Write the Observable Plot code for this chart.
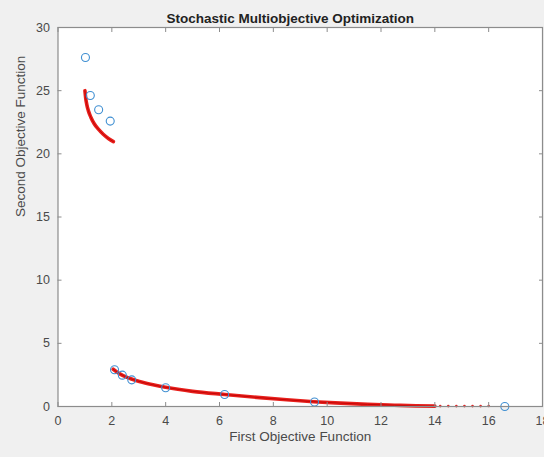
<!DOCTYPE html>
<html><head><meta charset="utf-8">
<script src="https://cdn.jsdelivr.net/npm/d3@7"></script>
<script src="https://cdn.jsdelivr.net/npm/@observablehq/plot@0.6"></script>
<style>
html,body{margin:0;padding:0;background:#f0f0f0;overflow:hidden;}
</style></head><body><div id="chart"></div>
<script>
const title = "Stochastic Multiobjective Optimization";
const xLabel = "First Objective Function";
const yLabel = "Second Objective Function";
const xTicks = [0, 2, 4, 6, 8, 10, 12, 14, 16, 18];
const yTicks = [0, 5, 10, 15, 20, 25, 30];

// blue circles (sampled objective values)
const sampleX = [1.02, 1.2, 1.51, 1.94, 2.1, 2.39, 2.74, 4.0, 6.19, 9.53, 16.6];
const sampleY = [27.63, 24.62, 23.49, 22.59, 2.91, 2.48, 2.11, 1.48, 0.95, 0.36, 0.0];

// red front, upper branch
const upperX = [1.0, 1.03, 1.07, 1.13, 1.22, 1.34, 1.5, 1.68, 1.87, 2.06];
const upperY = [25.0, 24.4, 23.9, 23.4, 22.9, 22.4, 21.95, 21.55, 21.22, 20.97];

// red front, lower branch
const lowerX = [2.05, 2.2, 2.4, 2.7, 3.2, 4.0, 5.0, 6.2, 7.5, 8.5, 9.5, 10.5, 11.5, 12.5, 13.3, 14.0];
const lowerY = [2.95, 2.72, 2.47, 2.2, 1.88, 1.52, 1.2, 0.95, 0.7, 0.53, 0.38, 0.27, 0.17, 0.1, 0.05, 0.03];

// sparse red points at the tail
const tailX = [14.2, 14.5, 14.8, 15.1, 15.4, 15.7, 16.0];
const tailY = [0.03, 0.03, 0.03, 0.03, 0.03, 0.03, 0.04];

const upper = upperX.map((x, i) => ({x, y: upperY[i]}));
const lower = lowerX.map((x, i) => ({x, y: lowerY[i]}));
const tail = tailX.map((x, i) => ({x, y: tailY[i]}));
const samples = sampleX.map((x, i) => ({x, y: sampleY[i]}));

const axisColor = "#8c8c8c";
const textColor = "#4a4a4a";
const font = "'Liberation Sans', Arial, Helvetica, sans-serif";

const plot = Plot.plot({
  width: 544,
  height: 457,
  marginTop: 27,
  marginBottom: 51,
  marginLeft: 57.5,
  marginRight: 2,
  style: {background: "#f0f0f0", fontFamily: font, overflow: "hidden"},
  x: {domain: [0, 18]},
  y: {domain: [0, 30]},
  marks: [
    Plot.frame({fill: "white", stroke: null}),
    Plot.line(upper, {x: "x", y: "y", stroke: "#e8201c", strokeWidth: 3.6, curve: "monotone-x"}),
    Plot.line(lower, {x: "x", y: "y", stroke: "#e8201c", strokeWidth: 3.6, curve: "monotone-x"}),
    Plot.line(upper, {x: "x", y: "y", stroke: "#c40606", strokeWidth: 1, curve: "monotone-x"}),
    Plot.line(lower, {x: "x", y: "y", stroke: "#c40606", strokeWidth: 1, curve: "monotone-x"}),
    Plot.dot(tail, {x: "x", y: "y", r: 1.3, fill: "#e02020"}),
    Plot.dot(samples, {x: "x", y: "y", r: 4, stroke: "#3f8fd2", strokeWidth: 1.1, fill: "none"}),
    Plot.frame({stroke: axisColor, strokeWidth: 1.2}),
    Plot.axisX({ticks: xTicks, anchor: "bottom", tickSize: -4, tickPadding: 14, fontSize: 12.5, color: textColor, stroke: axisColor, label: null}),
    Plot.axisX({ticks: xTicks, anchor: "top", tickSize: -4, tickFormat: () => "", stroke: axisColor, label: null}),
    Plot.axisY({ticks: yTicks, anchor: "left", tickSize: -4, tickPadding: 12, fontSize: 12.5, color: textColor, stroke: axisColor, label: null}),
    Plot.axisY({ticks: yTicks, anchor: "right", tickSize: -4, tickFormat: () => "", stroke: axisColor, label: null}),
    Plot.text([title], {text: d => d, frameAnchor: "top", dy: -14, dx: -10, fontWeight: "bold", fontSize: 13.5, fill: "#222"}),
    Plot.text([xLabel], {text: d => d, frameAnchor: "bottom", dy: 34, fontSize: 13.5, fill: textColor}),
    Plot.text([yLabel], {text: d => d, frameAnchor: "left", dx: -37, rotate: -90, fontSize: 13.5, fill: textColor})
  ]
});
document.getElementById("chart").appendChild(plot);
</script>
</body></html>
